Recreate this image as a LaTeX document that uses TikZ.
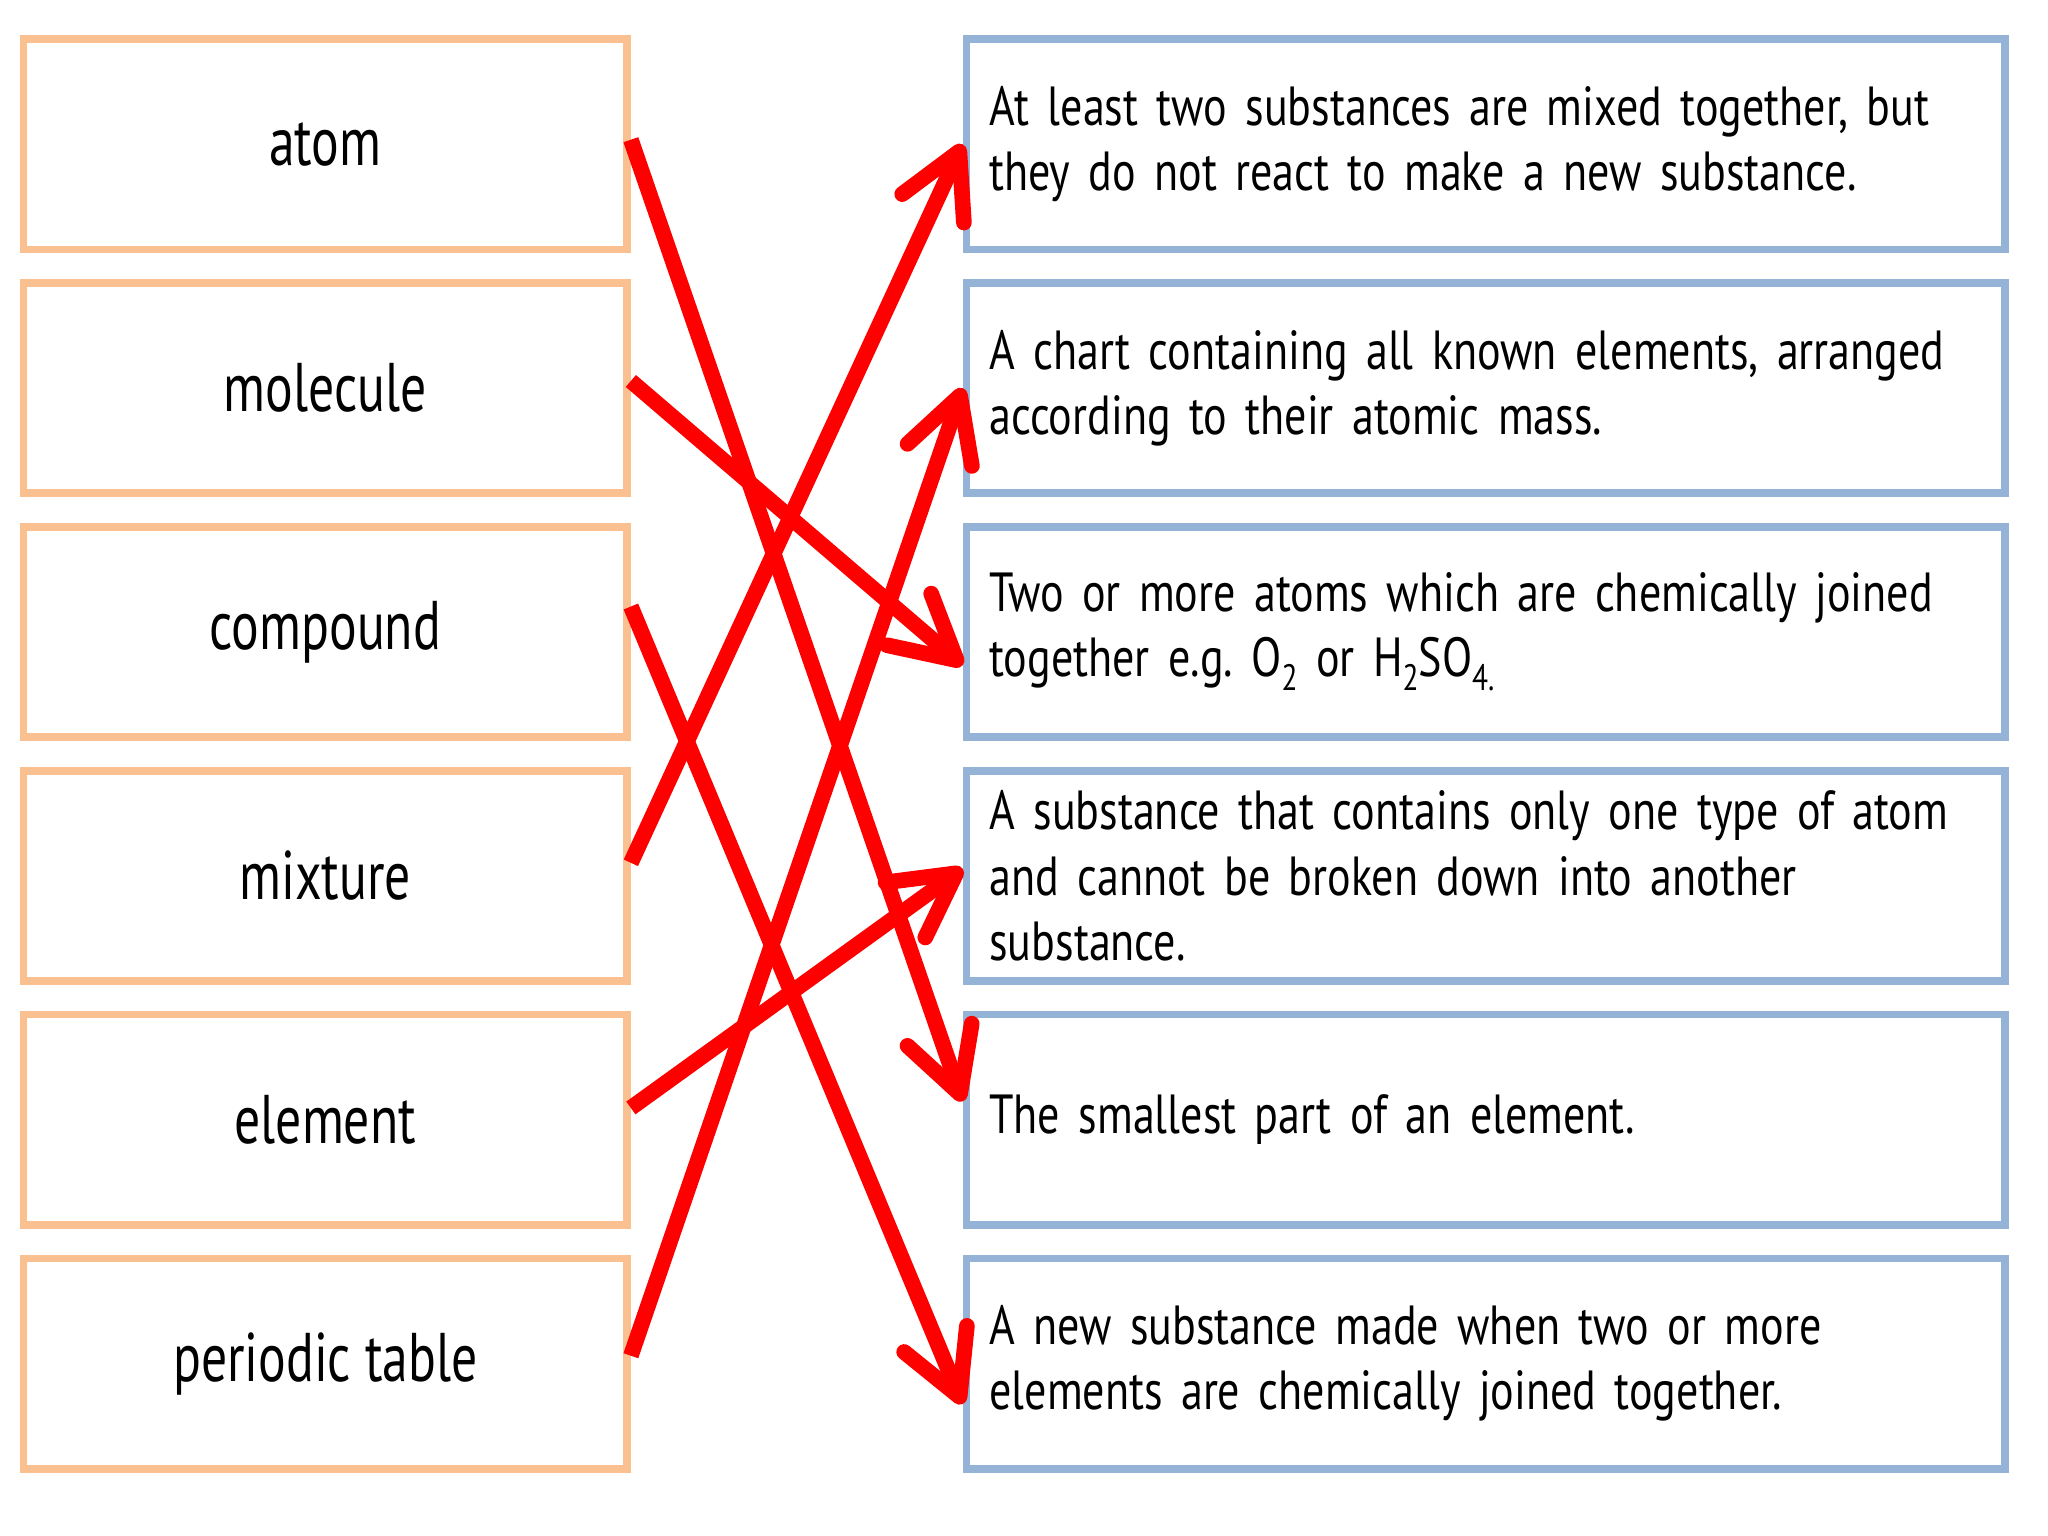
\documentclass[tikz,border=0pt]{standalone}
\usepackage{fontspec}
\setmainfont[FakeStretch=0.8]{PT Sans}
\newfontfamily\termfont[FakeStretch=0.75]{PT Sans}
\frenchspacing
\newcommand{\defnfont}{\fontsize{12}{14.2}\selectfont\spaceskip=0.18em plus 0.05em\relax}
\newcommand{\chemsub}[1]{\raisebox{-0.5ex}{\fontsize{8}{8}\selectfont #1}}
\definecolor{termorange}{RGB}{250,192,144}
\definecolor{defblue}{RGB}{149,179,215}
\definecolor{matchred}{RGB}{255,0,0}
\usetikzlibrary{arrows.meta,positioning}

\begin{document}
\begin{tikzpicture}[
  term/.style={
    rectangle, draw=termorange, line width=0.06cm,
    minimum width=4.62cm, minimum height=1.61cm,
    align=center, font=\termfont\fontsize{15}{18}\selectfont, text=black
  },
  defn/.style={
    rectangle, draw=defblue, line width=0.06cm,
    minimum width=7.95cm, minimum height=1.61cm,
    text width=7.6cm, align=left,
    font=\defnfont, text=black
  },
  match/.style={-{Straight Barb[length=4.8mm,width=5.2mm,round]}, line width=0.12cm, draw=matchred}
]
\useasboundingbox (0,0) rectangle (15.68,11.76);

% Terms
\node[term] (atom)     at (2.49,10.655) {atom};
\node[term] (molecule) at (2.49,8.788)  {molecule};
\node[term] (compound) at (2.49,6.921)  {compound};
\node[term] (mixture)  at (2.49,5.054)  {mixture};
\node[term] (element)  at (2.49,3.187)  {element};
\node[term] (ptable)   at (2.49,1.32)   {periodic table};

% Definitions
\node[defn] (dmix) at (11.375,10.655) {
  At least two substances are mixed together, but\\
  they do not react to make a new substance.
};
\node[defn] (dtable) at (11.375,8.788) {
  A chart containing all known elements, arranged\\
  according to their atomic mass.
};
\node[defn] (dmolec) at (11.375,6.921) {
  Two or more atoms which are chemically joined\\
  together e.g. O\chemsub{2} or H\chemsub{2}SO\chemsub{4.}
};
\node[defn] (delem) at (11.375,5.054) {
  A substance that contains only one type of atom\\
  and cannot be broken down into another\\
  substance.
};
\node[defn] (datom) at (11.375,3.187) {
  The smallest part of an element.
};
\node[defn] (dcomp) at (11.375,1.32) {
  A new substance made when two or more\\
  elements are chemically joined together.
};

% Matching arrows
\draw[match] ([yshift=0.035cm]atom.east)    -- ([yshift=0.14cm]datom.west);
\draw[match] ([yshift=0.055cm]molecule.east) -- ([yshift=-0.255cm]dmolec.west);
\draw[match] ([yshift=0.195cm]compound.east) -- ([yshift=-0.31cm]dcomp.west);
\draw[match] ([yshift=0.1cm]mixture.east)   -- (dmix.west);
\draw[match] ([yshift=0.09cm]element.east)  -- ([yshift=0.055cm]delem.west);
\draw[match] ([yshift=0.06cm]ptable.east)   -- (dtable.west);
\end{tikzpicture}
\end{document}
